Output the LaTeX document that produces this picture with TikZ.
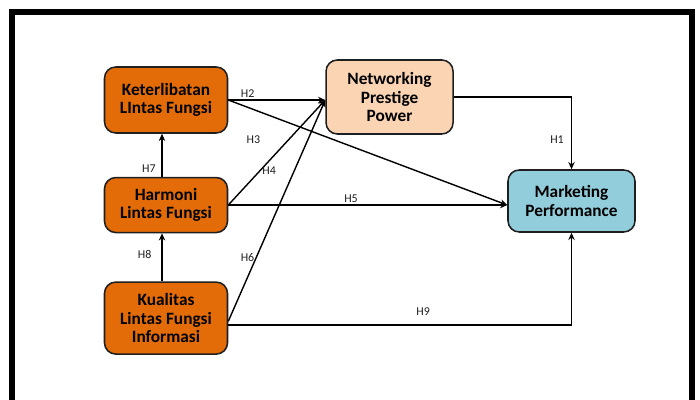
\documentclass[tikz,border=0pt]{standalone}
\usepackage{fontspec}
\setmainfont{Carlito}
\usetikzlibrary{arrows.meta}
\usetikzlibrary{positioning}
\usepackage{xcolor}
\definecolor{burntorange}{HTML}{E36C09}
\definecolor{peach}{HTML}{FBD4B4}
\definecolor{skyblue}{HTML}{92CDDC}
\definecolor{darkline}{HTML}{1F1F1F}

\begin{document}
\begin{tikzpicture}[
        node distance=1.1cm,
        factor/.style={rectangle, draw=darkline, line width=1.1pt, fill=burntorange,
          minimum width=3.075cm, minimum height=1.65cm,
          rounded corners=8pt, align=center,
          font=\fontsize{12.3}{13.3}\selectfont\bfseries},
        mediator/.style={rectangle, draw=darkline, line width=1.1pt, fill=peach,
          minimum width=3.175cm, minimum height=1.85cm,
          rounded corners=8pt, align=center,
          font=\fontsize{12.3}{13.3}\selectfont\bfseries},
        outcome/.style={rectangle, draw=darkline, line width=1.1pt, fill=skyblue,
          minimum width=3.175cm, minimum height=1.55cm,
          rounded corners=8pt, align=center,
          font=\fontsize{12.3}{13.3}\selectfont\bfseries},
        arrow/.style={-{Stealth[length=1.8mm, width=1.6mm]}, line width=1pt, draw=black},
        lbl/.style={font=\fontsize{8.5}{10}\selectfont, text=darkline, inner sep=1pt},
      ]

      % Frame
      \path[use as bounding box, clip] (0,0) rectangle (17.5,-10);
      \draw[line width=0.15cm] (0.3,-0.3) rectangle (17.31,-10.6);

      % Left column
      \node[factor] (ket) at (4.15,-2.5) {Keterlibatan\\LIntas Fungsi};
      \node[factor, below=1.075cm of ket, minimum height=1.375cm] (harm) {Harmoni\\Lintas Fungsi};
      \node[factor, below=1.2cm of harm, minimum height=1.8cm] (kual) {Kualitas\\Lintas Fungsi\\Informasi};

      % Mediator
      \node[mediator, right=2.425cm of ket, yshift=0.075cm] (net) {Networking\\Prestige\\Power};

      % Outcome
      \node[outcome] (mkt) at (14.2875,-5.025) {Marketing\\Performance};

      % Entry points
      \coordinate (netin) at (net.west |- ket.east);
      \coordinate (mktin) at (mkt.west |- harm.east);

      % Arrows
      \draw[arrow] (net.east) -| node[lbl, pos=0.795, left=4pt] {H1} (mkt.north);
      \draw[arrow] (ket.east) -- node[lbl, pos=0.2, above] {H2} (netin);
      \draw[arrow] (ket.east) -- node[lbl, pos=0.09, below=0.6cm] {H3} (mktin);
      \draw[arrow] (harm.east) -- node[lbl, pos=0.33, right] {H4} (netin);
      \draw[arrow] (harm.east) -- node[lbl, pos=0.44, above] {H5} (mktin);
      \draw[arrow] ([yshift=-0.08cm]kual.east) -- node[lbl, pos=0.29, left] {H6} (netin);
      \draw[arrow] ([xshift=-0.1cm]harm.north) -- node[lbl, pos=0.2, left=3pt] {H7} ([xshift=-0.1cm]ket.south);
      \draw[arrow] ([xshift=-0.1cm]kual.north) -- node[lbl, pos=0.55, left=6pt] {H8} ([xshift=-0.1cm]harm.south);
      \draw[arrow] ([yshift=-0.17cm]kual.east) -| node[lbl, pos=0.284, above=5pt] {H9} (mkt.south);

      \end{tikzpicture}
\end{document}
